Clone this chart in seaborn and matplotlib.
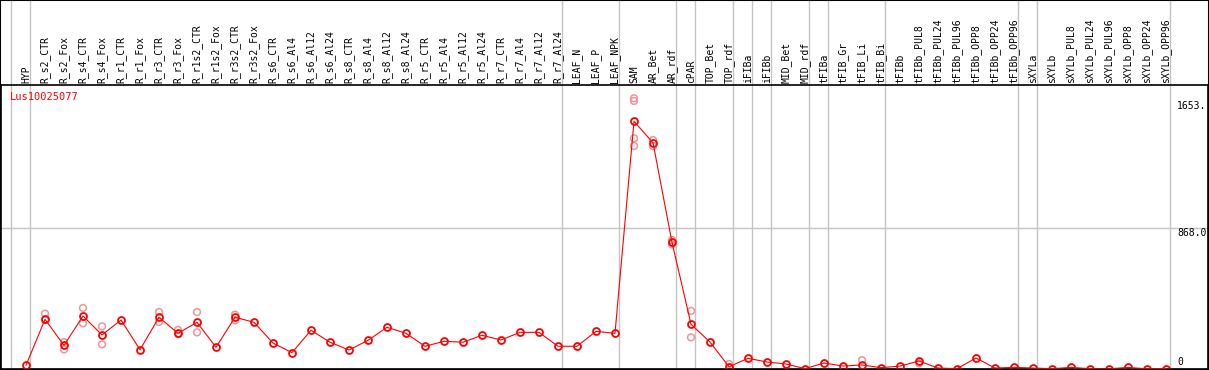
import numpy as np
import pandas as pd
import matplotlib
matplotlib.use("Agg")
import matplotlib.pyplot as plt
import matplotlib.transforms as mtransforms
from matplotlib.patches import Rectangle
import seaborn as sns

# Dados
gene_name = "Lus10025077"

categories = [
    "HYP",
    "R_s2_CTR", "R_s2_Fox", "R_s4_CTR", "R_s4_Fox", "R_r1_CTR", "R_r1_Fox",
    "R_r3_CTR", "R_r3_Fox", "R_r1s2_CTR", "R_r1s2_Fox", "R_r3s2_CTR", "R_r3s2_Fox",
    "R_s6_CTR", "R_s6_Al4", "R_s6_Al12", "R_s6_Al24",
    "R_s8_CTR", "R_s8_Al4", "R_s8_Al12", "R_s8_Al24",
    "R_r5_CTR", "R_r5_Al4", "R_r5_Al12", "R_r5_Al24",
    "R_r7_CTR", "R_r7_Al4", "R_r7_Al12", "R_r7_Al24",
    "LEAF_N", "LEAF_P", "LEAF_NPK",
    "SAM", "AR_Bet", "AR_rdf", "cPAR", "TOP_Bet", "TOP_rdf",
    "iFIBa", "iFIBb", "MID_Bet", "MID_rdf",
    "tFIBa", "tFIB_Gr", "tFIB_Li", "tFIB_Bi",
    "tFIBb", "tFIBb_PUL8", "tFIBb_PUL24", "tFIBb_PUL96",
    "tFIBb_OPP8", "tFIBb_OPP24", "tFIBb_OPP96",
    "sXYLa", "sXYLb", "sXYLb_PUL8", "sXYLb_PUL24", "sXYLb_PUL96",
    "sXYLb_OPP8", "sXYLb_OPP24", "sXYLb_OPP96",
]

mean_values = [
    23,
    306, 146, 327, 210, 302, 119,
    319, 220, 288, 134, 319, 288,
    160, 101, 239, 165,
    117, 177, 257, 220,
    140, 171, 165, 208,
    179, 226, 226, 140,
    140, 232, 220,
    1527, 1395, 781, 276, 166, 14,
    66, 43, 31, 2,
    37, 18, 25, 8,
    18, 49, 6, 2,
    68, 6, 10,
    6, 2, 10, 2, 1,
    10, 1, 3,
]

# Réplicas visíveis (as demais ficam escondidas atrás da média)
rep_labels = [
    "R_s2_CTR", "R_s2_CTR", "R_s2_Fox", "R_s2_Fox", "R_s4_CTR", "R_s4_CTR",
    "R_s4_Fox", "R_s4_Fox", "R_r3_CTR", "R_r3_CTR", "R_r3_Fox", "R_r3_Fox",
    "R_r1s2_CTR", "R_r1s2_CTR", "R_r3s2_CTR", "R_r3s2_CTR",
    "SAM", "SAM", "SAM", "SAM", "AR_Bet", "AR_Bet", "AR_rdf", "AR_rdf",
    "cPAR", "cPAR", "TOP_rdf", "tFIB_Li", "tFIBb_PUL8",
]
rep_values = [
    341, 302, 166, 121, 376, 282,
    263, 152, 351, 290, 241, 215,
    351, 226, 335, 300,
    1669, 1653, 1422, 1375, 1412, 1375, 795, 769,
    358, 195, 31, 54, 35,
]

# Separadores de grupo (linha vertical depois destas categorias)
group_ends = ["HYP", "R_r7_Al24", "LEAF_NPK", "AR_rdf", "cPAR", "TOP_rdf",
              "iFIBa", "iFIBb", "MID_rdf", "tFIBa", "tFIB_Bi", "tFIBb_OPP96",
              "sXYLa", "sXYLb_OPP96"]

y_tick_values = [1653.0, 868.0, 0]
y_tick_labels = ["1653.", "868.0", "0"]

sns.set_theme(style="white")
plt.rcParams["font.family"] = ["DejaVu Sans Mono", "DejaVu Sans"]

W, H = 1209, 370
fig = plt.figure(figsize=(W / 100, H / 100), dpi=100)
fig.patch.set_facecolor("white")
ax = fig.add_axes([1 / W, 1 / H, 1207 / W, 284 / H])

pos = {c: i for i, c in enumerate(categories)}
df_mean = pd.DataFrame({"pos": np.arange(len(categories)), "value": mean_values})
df_rep = pd.DataFrame({"pos": [pos[c] for c in rep_labels], "value": rep_values})

grid_color = "#c4c4c4"
ax.axhline(868.0, color=grid_color, lw=1, zorder=0)

blend = mtransforms.blended_transform_factory(ax.transData, ax.transAxes)
sep_x = [-0.8] + [pos[g] + 0.2 for g in group_ends]
ax.vlines(sep_x, 0, 1 + 85 / 284, transform=blend, color=grid_color,
          lw=1, clip_on=False, zorder=0)

sns.scatterplot(data=df_rep, x="pos", y="value", marker="o", s=24,
                facecolor="none", edgecolor="#f09494", linewidth=1.1,
                ax=ax, zorder=2)
sns.lineplot(data=df_mean, x="pos", y="value", color="red", lw=0.8,
             marker="o", markersize=5, markerfacecolor="none",
             markeredgecolor="red", markeredgewidth=1.3, ax=ax, zorder=3)

ax.set_xlim((1 - 26) / 19, (1208 - 26) / 19)
ax.set_ylim(0, 1751)
ax.set_xticks([])
ax.set_yticks([])
ax.set_xlabel("")
ax.set_ylabel("")
for sp in ax.spines.values():
    sp.set_color("black")
    sp.set_linewidth(1.2)

# Rótulos das categorias no cabeçalho
for i, c in enumerate(categories):
    ax.text(i, 1 + 2 / 284, c, transform=blend, rotation=90,
            ha="center", va="bottom", fontsize=7, color="black")

# Valores do eixo y à direita
tx = (1177 - 1) / 1207
ytrans = mtransforms.blended_transform_factory(ax.transAxes, ax.transData)
for v, lab in zip(y_tick_values, y_tick_labels):
    if v == 0:
        ax.text(tx, 12, lab, transform=ytrans,
                ha="left", va="bottom", fontsize=7, color="black")
    else:
        ax.text(tx, v, lab, transform=ytrans,
                ha="left", va="top", fontsize=7, color="black")

ax.text(9 / 1207, 1 - 12 / 284, gene_name, transform=ax.transAxes,
        ha="left", va="center", fontsize=7.5, color="red")

fig.patches.append(Rectangle((0, 0), 1, 1, transform=fig.transFigure,
                             fill=False, ec="black", lw=1.5))

fig.savefig("out.png", dpi=100)
